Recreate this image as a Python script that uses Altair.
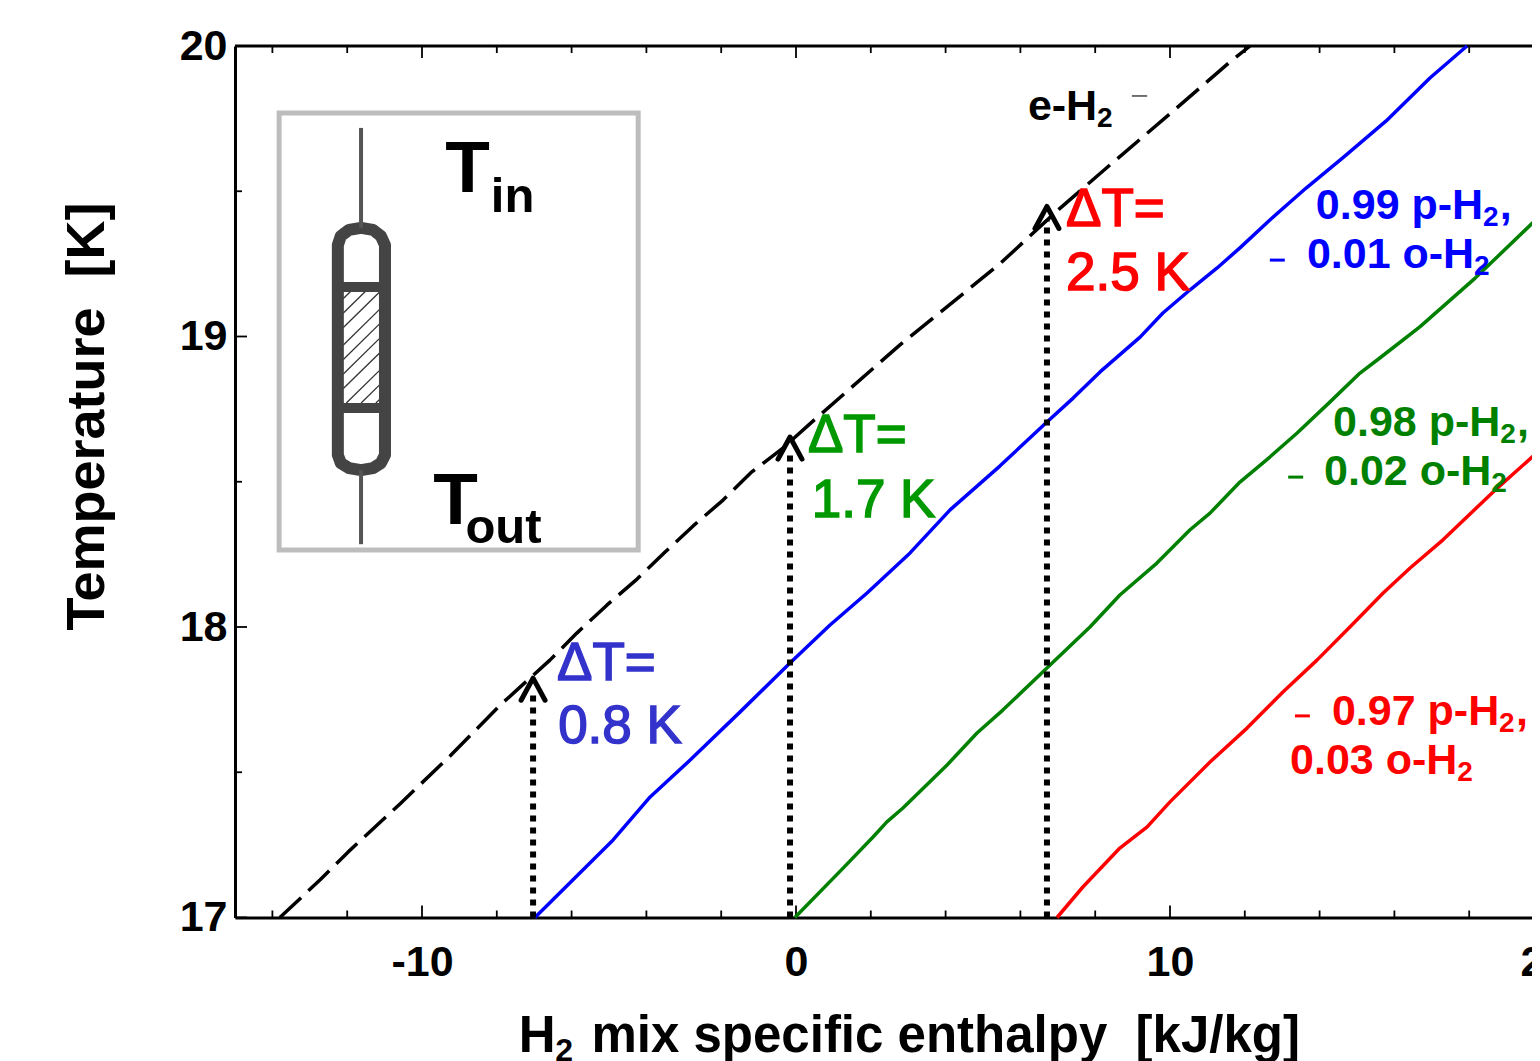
import altair as alt
import pandas as pd

FONT = "Liberation Sans"

# ---- curve values: enthalpy [kJ/kg], temperature [K]
eh2_h = [-13.80,-12.73,-11.98,-10.59,-9.25,-7.91,-6.58,-5.86,-5.05,-4.25,-3.50,-2.75,-1.95,-1.18,-0.35,0.43,2.78,5.45,7.01,8.40,10.03,11.63,12.14]
eh2_t = [17.00,17.129,17.225,17.391,17.556,17.731,17.886,17.979,18.076,18.165,18.258,18.348,18.437,18.534,18.616,18.706,18.971,19.250,19.436,19.591,19.770,19.948,20.00]
p99_h = [-6.98,-4.89,-3.90,-2.83,-1.50,-0.16,0.91,1.90,3.05,4.12,5.45,6.71,7.41,8.13,9.20,9.81,10.53,11.26,11.87,12.67,13.64,14.65,15.78,16.95,17.94]
p99_t = [17.00,17.267,17.415,17.542,17.707,17.876,18.007,18.117,18.255,18.403,18.554,18.706,18.788,18.878,18.998,19.081,19.160,19.236,19.305,19.401,19.511,19.618,19.742,19.890,20.00]
p98_h = [-0.03,1.26,2.06,2.43,2.86,4.04,4.84,5.53,6.71,7.86,8.66,9.65,10.53,11.07,11.87,12.67,13.40,14.28,15.08,15.61,16.68,18.16,19.89,20.0]
p98_t = [17.00,17.170,17.277,17.329,17.377,17.525,17.635,17.714,17.859,18.000,18.110,18.220,18.334,18.392,18.499,18.585,18.668,18.775,18.874,18.926,19.033,19.201,19.415,19.43]
p97_h = [6.98,7.67,8.66,9.39,10.00,11.07,12.06,13.02,13.93,14.81,15.70,16.42,17.30,18.64,19.89,20.0]
p97_t = [17.00,17.105,17.239,17.312,17.398,17.535,17.652,17.776,17.886,18.000,18.117,18.203,18.300,18.465,18.609,18.62]

# ---- arrows
arrow_h = [-7.03,-0.16,6.71]
arrow_tip = [17.824,18.654,19.448]
arrow_stem = [17.78,18.60,19.40]

# ---- text labels: text, enthalpy, temperature
dt_blue = [("ΔT=",-6.39,17.818),("0.8 K",-6.36,17.600)]
dt_green = [("ΔT=",0.32,18.602),("1.7 K",0.42,18.380)]
dt_red = [("ΔT=",7.22,19.380),("2.5 K",7.22,19.160)]
lab_black = [("e-H",6.20,19.745)]
lab_blue = [("0.99 p-H",13.90,19.404),("0.01 o-H",13.66,19.236)]
lab_green = [("0.98 p-H",14.36,18.657),("0.02 o-H",14.12,18.489)]
lab_red = [("0.97 p-H",14.33,17.662),("0.03 o-H",13.21,17.494)]
ins_big = [("T",-9.38,19.497),("T",-9.70,18.355)]
ins_small = [("in",-8.16,19.429),("out",-8.84,18.289)]
xtitle_main = [("H",-7.41,16.537),("mix specific enthalpy\u00a0\u00a0[kJ/kg]",-5.47,16.537)]
xtitle_sub = [("2",-6.44,16.506)]

# ---- short legend stubs: h1, h2, T, colour, width
stubs = [(8.98,9.39,19.828,"#444444",1.5),(12.67,13.07,19.263,"#0000FF",3),
         (13.16,13.56,18.516,"#008000",3),(13.34,13.74,17.694,"#FF0000",3)]

# ---- ticks
x_major = [-10,0,10,20]
x_minor = [-14,-12,-8,-6,-4,-2,2,4,6,8,12,14,16,18]
y_major = [17,18,19,20]
y_minor = [17.5,18.5,19.5]

# ---- inset schematic
box = dict(h=-13.82,h2=-4.22,t=19.769,t2=18.265)
cap_h = [-12.25,-12.17,-11.95,-11.63,-11.31,-11.10,-10.99,-10.99,-11.10,-11.31,-11.63,-11.95,-12.17,-12.25,-12.25]
cap_t = [19.315,19.346,19.367,19.374,19.367,19.346,19.315,18.592,18.564,18.547,18.540,18.547,18.564,18.592,19.315]
lead_h = -11.63
leads = [(19.374,19.718),(18.285,18.540)]
bands = [19.170,18.754]
hatch_l, hatch_r, hatch_top, hatch_bot = -12.11,-11.10,19.156,18.771
hatch_start = [18.66,18.71,18.76,18.82,18.87,18.92,18.97,19.03,19.08,19.13]

W, H = 1297, 871.5
xs = alt.Scale(domain=[-15,20], range=[0,1309], nice=False, zero=False)
ys = alt.Scale(domain=[17,20], nice=False, zero=False)

axis_x = alt.Axis(values=x_major, labelExpr="'' + datum.value", title=None,
                  ticks=False, grid=False, labelFontSize=43, labelFontWeight="bold", labelFont=FONT,
                  labelColor="black", labelPadding=24, labelOverlap=False, labelFlush=False, labelBound=False,
                  domainColor="black", domainWidth=3)
axis_y = alt.Axis(values=y_major, labelExpr="'' + datum.value", title="Temperature\u00a0\u00a0[K]",
                  ticks=False, grid=False, labelFontSize=43, labelFontWeight="bold", labelFont=FONT,
                  labelColor="black", labelPadding=8, labelOverlap=False, labelFlush=False, labelBound=False,
                  titleFontSize=54, titleFontWeight="bold", titleFont=FONT, titleColor="black",
                  titleX=-132, titleY=370, titleBaseline="alphabetic", titleAlign="center",
                  domainColor="black", domainWidth=3)
X = alt.X("h:Q", scale=xs, axis=axis_x)
Y = alt.Y("t:Q", scale=ys, axis=axis_y)
X2 = alt.X2("h2:Q")
Y2 = alt.Y2("t2:Q")

def curve(h, t, color, width=3.5, dash=None, cap="butt"):
    kw = dict(color=color, strokeWidth=width, strokeCap=cap, strokeJoin="round")
    if dash:
        kw["strokeDash"] = dash
    df = pd.DataFrame({"h": h, "t": t, "i": range(len(h))})
    return alt.Chart(df).mark_line(**kw).encode(x=X, y=Y, order="i:Q")

def labels(rows, color, size, weight="bold", stroke=0):
    df = pd.DataFrame(rows, columns=["s","h","t"])
    kw = dict(stroke=color, strokeWidth=stroke) if stroke else {}
    return alt.Chart(df).mark_text(align="left", baseline="alphabetic", color=color,
                                   fontSize=size, fontWeight=weight, font=FONT, **kw).encode(x=X, y=Y, text="s:N")

def mix_labels(rows, color):
    # main text, then the smaller lowered "2", then the comma for the p-H rows
    out = [labels(rows, color, 43)]
    out.append(labels([("2", h + 4.47 if s != "e-H" else h + 1.85, t - 0.024) for s, h, t in rows], color, 28))
    commas = [(",", h + 4.92, t) for s, h, t in rows if "p-H" in s]
    if commas:
        out.append(labels(commas, color, 43))
    return out

layers = []

# top frame line
layers.append(alt.Chart(pd.DataFrame({"a": [0]})).mark_rule(color="black", strokeWidth=3).encode(
    x=alt.value(0), x2=alt.value(W), y=alt.value(0)))

# inward ticks on all sides
def xticks(vals, ln):
    d = alt.Chart(pd.DataFrame({"h": vals})).mark_rule(color="black", strokeWidth=1.8)
    return [d.encode(x=X, y=alt.value(H), y2=alt.value(H-ln)), d.encode(x=X, y=alt.value(0), y2=alt.value(ln))]
def yticks(vals, ln):
    d = alt.Chart(pd.DataFrame({"t": vals})).mark_rule(color="black", strokeWidth=1.8)
    return [d.encode(y=Y, x=alt.value(0), x2=alt.value(ln)), d.encode(y=Y, x=alt.value(1309), x2=alt.value(1309-ln))]
layers += xticks(x_major, 12) + xticks(x_minor, 7) + yticks(y_major, 12) + yticks(y_minor, 7)

# inset frame
layers.append(alt.Chart(pd.DataFrame([box])).mark_rect(fill="white", stroke="#BDBDBD", strokeWidth=5).encode(x=X, x2=X2, y=Y, y2=Y2))

# hatch inside the resistor
slope = 0.1265
for t0 in hatch_start:
    t1 = t0 + slope * (hatch_r - hatch_l)
    a_h, a_t, b_h, b_t = hatch_l, t0, hatch_r, t1
    if a_t < hatch_bot:
        a_h = hatch_l + (hatch_bot - t0) / slope
        a_t = hatch_bot
    if b_t > hatch_top:
        b_h = hatch_l + (hatch_top - t0) / slope
        b_t = hatch_top
    layers.append(curve([a_h, b_h], [a_t, b_t], "#333333", 1.3))

# resistor body
layers.append(curve(cap_h, cap_t, "#444444", 12, cap="round"))
for a, b in leads:
    layers.append(curve([lead_h, lead_h], [a, b], "#555555", 4))
for b in bands:
    layers.append(curve([cap_h[0], cap_h[6]], [b, b], "#444444", 10))

# curves
layers.append(curve(eh2_h, eh2_t, "black", 3.5, dash=[29, 10]))
layers.append(curve(p99_h, p99_t, "#0000FF"))
layers.append(curve(p98_h, p98_t, "#008000"))
layers.append(curve(p97_h, p97_t, "#FF0000"))

# dotted arrows
for h, tip, top in zip(arrow_h, arrow_tip, arrow_stem):
    layers.append(curve([h, h], [17, top], "black", 6, dash=[6, 6]))
    layers.append(curve([h - 0.32, h, h + 0.32], [tip - 0.076, tip, tip - 0.076], "black", 5, cap="round"))

# stubs
for h1, h2, t, c, w in stubs:
    layers.append(curve([h1, h2], [t, t], c, w))

# text
layers += [
    labels(dt_blue, "#3333CC", 53, "normal", 1.5), labels(dt_green, "#009900", 53, "normal", 1.5), labels(dt_red, "#FF0000", 53, "normal", 1.5),
    labels(ins_big, "black", 73), labels(ins_small, "black", 49),
    labels(xtitle_main, "black", 51), labels(xtitle_sub, "black", 32),
]
layers += mix_labels(lab_black, "black") + mix_labels(lab_blue, "#0000FF") + mix_labels(lab_green, "#008000") + mix_labels(lab_red, "#FF0000")

chart = alt.layer(*layers).properties(
    width=W, height=H, autosize="none",
    padding={"left": 227, "top": 38, "right": 0, "bottom": 143},
).configure_view(stroke=None).configure(background="white", font=FONT)

chart.save("out.html", embed_options={"renderer": "svg", "actions": False})
